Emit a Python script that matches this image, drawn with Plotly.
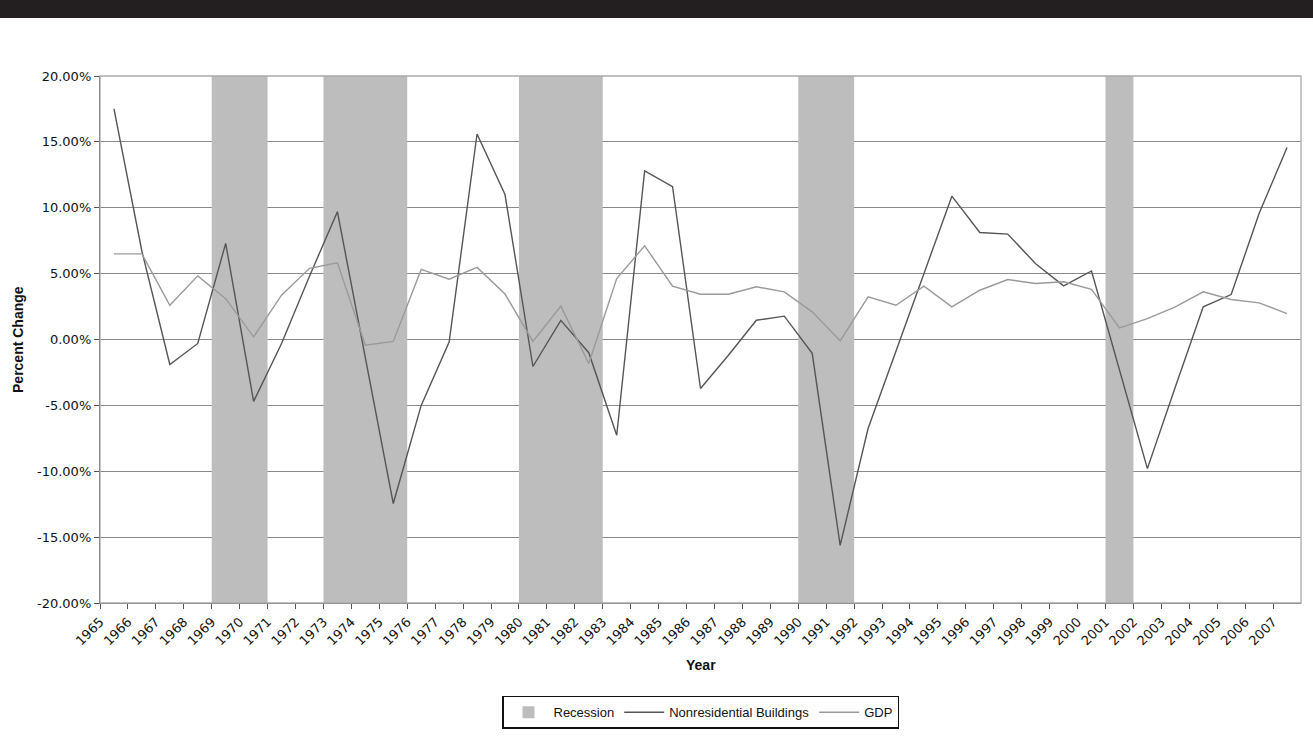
import plotly.graph_objects as go

# Annual percent change, 1965-2007
years = list(range(1965, 2008))

nonresidential_buildings = [
    17.5, 6.7, -1.9, -0.3, 7.3, -4.7, -0.3, 4.8, 9.7, -1.4,
    -12.45, -5.0, -0.2, 15.6, 11.0, -2.05, 1.45, -1.0, -7.27, 12.8,
    11.6, -3.72, -1.2, 1.46, 1.77, -1.05, -15.62, -6.76, -0.9, 5.0,
    10.88, 8.12, 8.0, 5.75, 4.07, 5.2, -2.3, -9.8, -3.6, 2.48,
    3.41, 9.56, 14.58,
]

gdp = [
    6.5, 6.5, 2.6, 4.83, 3.1, 0.2, 3.36, 5.4, 5.83, -0.43,
    -0.15, 5.32, 4.58, 5.47, 3.45, -0.15, 2.53, -1.82, 4.63, 7.11,
    4.05, 3.44, 3.44, 4.0, 3.62, 2.1, -0.1, 3.24, 2.6, 4.05,
    2.48, 3.74, 4.55, 4.25, 4.38, 3.8, 0.88, 1.59, 2.48, 3.62,
    3.04, 2.78, 1.97,
]

# Recession periods (first year, last year)
recessions = [(1969, 1970), (1973, 1975), (1980, 1982), (1990, 1991), (2001, 2001)]

# Percent-axis ticks
y_ticks = [-20, -15, -10, -5, 0, 5, 10, 15, 20]
y_tick_labels = [f"{v:.2f}%" for v in y_ticks]
x_tick_labels = [str(y) for y in years]

y_min, y_max = y_ticks[0], y_ticks[-1]

FONT = "DejaVu Sans"

fig = go.Figure()

fig.add_trace(go.Bar(
    name="Recession",
    x=[(s + e) / 2 for s, e in recessions],
    y=[(y_max - y_min) / 100] * len(recessions),
    base=y_min / 100,
    width=[e - s + 1 for s, e in recessions],
    marker=dict(color="#bdbdbd", line=dict(width=0)),
    hoverinfo="skip",
))

fig.add_trace(go.Scatter(
    name="Nonresidential Buildings",
    x=years,
    y=[v / 100 for v in nonresidential_buildings],
    mode="lines",
    line=dict(color="#555555", width=1.4),
))

fig.add_trace(go.Scatter(
    name="GDP",
    x=years,
    y=[v / 100 for v in gdp],
    mode="lines",
    line=dict(color="#9a9a9a", width=1.4),
))

fig.update_layout(
    width=1313,
    height=746,
    margin=dict(l=100, r=12, t=76, b=143),
    paper_bgcolor="white",
    plot_bgcolor="white",
    font=dict(family=FONT, size=13, color="#111111"),
    barmode="overlay",
    showlegend=True,
    legend=dict(
        orientation="h",
        x=0.5, xanchor="center",
        y=-0.176, yanchor="top",
        bordercolor="#111111", borderwidth=1.5,
        font=dict(family="Liberation Sans", size=13, color="#111111"),
        itemwidth=40,
        tracegroupgap=0,
    ),
    xaxis=dict(
        range=[years[0] - 0.5, years[-1] + 0.5],
        tickmode="array",
        tickvals=[y - 0.5 for y in years],
        ticktext=x_tick_labels,
        tickangle=-45,
        ticks="outside",
        ticklen=5,
        tickcolor="#555555",
        showgrid=False,
        showline=True,
        linecolor="#555555",
        linewidth=1.3,
        zeroline=False,
        tickfont=dict(family=FONT, size=13, color="#111111"),
    ),
    yaxis=dict(
        range=[y_min / 100, y_max / 100],
        tickmode="array",
        tickvals=[v / 100 for v in y_ticks],
        ticktext=y_tick_labels,
        ticks="outside",
        ticklen=5,
        tickcolor="#555555",
        showgrid=True,
        gridcolor="#8a8a8a",
        gridwidth=1.3,
        showline=True,
        linecolor="#555555",
        linewidth=1.3,
        zeroline=False,
        tickfont=dict(family=FONT, size=13, color="#111111"),
    ),
    shapes=[
        # plot-area frame
        dict(type="rect", xref="paper", yref="paper", x0=0, x1=1, y0=0, y1=1,
             line=dict(color="#aaaaaa", width=1.3), layer="above"),
        # dark band across the top of the page
        dict(type="rect", xref="paper", yref="paper", x0=-0.1, x1=1.1,
             y0=1.110, y1=1.16, line=dict(width=0), fillcolor="#231f20"),
    ],
    annotations=[
        dict(text="<b>Percent Change</b>", xref="paper", yref="paper",
             x=-0.0687, y=0.5, xanchor="center", yanchor="middle",
             textangle=-90, showarrow=False,
             font=dict(family="Liberation Sans", size=14, color="#111111")),
        dict(text="<b>Year</b>", xref="paper", yref="paper",
             x=0.5, y=-0.118, xanchor="center", yanchor="middle",
             showarrow=False,
             font=dict(family="Liberation Sans", size=14, color="#111111")),
    ],
)

fig.write_html("out.html")
